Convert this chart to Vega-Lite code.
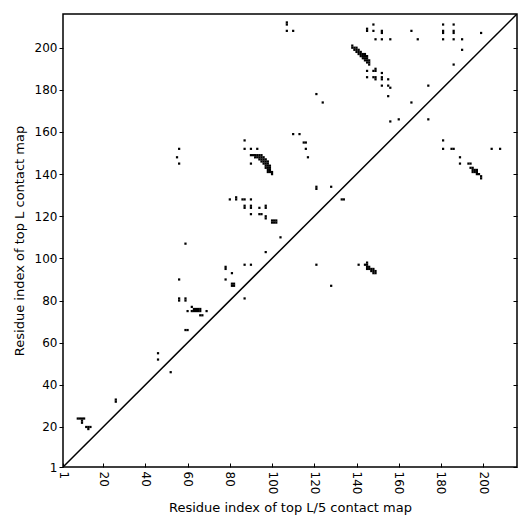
{
  "$schema": "https://vega.github.io/schema/vega-lite/v6.json",
  "autosize": "none",
  "width": 454,
  "height": 453,
  "padding": {"left": 63, "top": 14, "right": 14, "bottom": 64},
  "background": "white",
  "config": {
    "view": {"stroke": "black", "strokeWidth": 1.5},
    "font": "DejaVu Sans",
    "axis": {"labelFont": "DejaVu Sans", "titleFont": "DejaVu Sans", "labelFontSize": 12, "titleFontSize": 13, "titleFontWeight": "normal", "labelColor": "black", "titleColor": "black", "tickColor": "black", "domain": false, "grid": false}
  },
  "resolve": {"axis": {"y": "independent"}},
  "layer": [
    {
      "data": {"values": [
        {"x":107,"y":212},{"x":107,"y":211},{"x":107,"y":208},{"x":110,"y":208},
        {"x":145,"y":209},{"x":145,"y":208},{"x":148,"y":211},{"x":148,"y":208},
        {"x":152,"y":208},{"x":152,"y":207},{"x":149,"y":204},{"x":152,"y":204},{"x":156,"y":204},
        {"x":138,"y":201},{"x":138,"y":200},{"x":139,"y":200},{"x":139,"y":199},{"x":140,"y":200},{"x":140,"y":199},{"x":140,"y":198},
        {"x":141,"y":199},{"x":141,"y":198},{"x":141,"y":197},{"x":142,"y":198},{"x":142,"y":197},{"x":142,"y":196},{"x":143,"y":197},{"x":143,"y":196},{"x":143,"y":195},
        {"x":144,"y":197},{"x":144,"y":196},{"x":144,"y":195},{"x":144,"y":194},{"x":145,"y":196},{"x":145,"y":195},{"x":145,"y":194},{"x":145,"y":193},{"x":146,"y":194},{"x":146,"y":193},{"x":146,"y":192},
        {"x":145,"y":189},{"x":148,"y":189},{"x":149,"y":189},{"x":149,"y":190},{"x":152,"y":188},
        {"x":145,"y":186},{"x":148,"y":186},{"x":149,"y":186},{"x":149,"y":185},{"x":152,"y":185},{"x":152,"y":186},{"x":155,"y":185},
        {"x":152,"y":182},{"x":155,"y":182},{"x":156,"y":181},{"x":155,"y":177},
        {"x":121,"y":178},{"x":124,"y":174},{"x":156,"y":165},{"x":160,"y":166},
        {"x":166,"y":208},{"x":169,"y":204},
        {"x":181,"y":211},{"x":181,"y":208},{"x":181,"y":207},{"x":181,"y":204},
        {"x":186,"y":211},{"x":186,"y":208},{"x":186,"y":207},{"x":186,"y":204},
        {"x":190,"y":204},{"x":190,"y":199},{"x":199,"y":207},{"x":186,"y":192},
        {"x":174,"y":182},{"x":166,"y":174},{"x":174,"y":166},
        {"x":56,"y":152},{"x":55,"y":148},{"x":56,"y":145},
        {"x":110,"y":159},{"x":113,"y":159},{"x":87,"y":156},
        {"x":87,"y":152},{"x":90,"y":152},{"x":93,"y":152},
        {"x":90,"y":149},{"x":91,"y":149},{"x":92,"y":149},{"x":93,"y":149},{"x":94,"y":149},{"x":95,"y":149},
        {"x":92,"y":148},{"x":93,"y":148},{"x":94,"y":148},{"x":95,"y":148},{"x":96,"y":148},
        {"x":94,"y":147},{"x":95,"y":147},{"x":96,"y":147},{"x":97,"y":147},
        {"x":95,"y":146},{"x":96,"y":146},{"x":97,"y":146},{"x":98,"y":146},
        {"x":96,"y":145},{"x":97,"y":145},{"x":98,"y":145},{"x":90,"y":145},
        {"x":97,"y":144},{"x":98,"y":144},{"x":99,"y":144},
        {"x":97,"y":143},{"x":98,"y":143},{"x":99,"y":143},
        {"x":98,"y":142},{"x":99,"y":142},
        {"x":98,"y":141},{"x":99,"y":141},{"x":100,"y":141},{"x":100,"y":140},
        {"x":80,"y":128},{"x":83,"y":128},{"x":83,"y":129},{"x":86,"y":128},{"x":87,"y":128},{"x":90,"y":128},
        {"x":87,"y":125},{"x":87,"y":124},{"x":90,"y":125},{"x":90,"y":124},{"x":94,"y":124},{"x":97,"y":125},{"x":97,"y":124},
        {"x":90,"y":121},{"x":94,"y":121},{"x":95,"y":121},{"x":97,"y":120},{"x":97,"y":119},
        {"x":100,"y":118},{"x":101,"y":118},{"x":102,"y":118},{"x":100,"y":117},{"x":101,"y":117},{"x":102,"y":117},
        {"x":59,"y":107},{"x":104,"y":110},
        {"x":115,"y":155},{"x":116,"y":155},{"x":116,"y":152},{"x":117,"y":148},
        {"x":121,"y":134},{"x":121,"y":133},{"x":128,"y":134},{"x":133,"y":128},{"x":134,"y":128},
        {"x":181,"y":156},{"x":181,"y":152},{"x":185,"y":152},{"x":186,"y":152},{"x":204,"y":152},{"x":208,"y":152},
        {"x":189,"y":148},{"x":189,"y":145},{"x":193,"y":145},{"x":194,"y":145},
        {"x":194,"y":143},{"x":195,"y":143},{"x":195,"y":142},{"x":196,"y":142},{"x":197,"y":142},{"x":195,"y":141},{"x":196,"y":141},{"x":197,"y":141},
        {"x":197,"y":140},{"x":198,"y":140},{"x":199,"y":139},{"x":199,"y":138},
        {"x":56,"y":90},{"x":56,"y":81},{"x":56,"y":80},{"x":46,"y":55},{"x":46,"y":52},
        {"x":97,"y":103},{"x":87,"y":97},{"x":90,"y":97},{"x":78,"y":96},{"x":78,"y":95},{"x":81,"y":93},{"x":78,"y":90},
        {"x":81,"y":88},{"x":82,"y":88},{"x":81,"y":87},{"x":82,"y":87},{"x":87,"y":81},{"x":59,"y":81},{"x":59,"y":80},
        {"x":62,"y":77},{"x":63,"y":76},{"x":64,"y":76},{"x":63,"y":75},{"x":64,"y":75},{"x":60,"y":75},{"x":62,"y":75},
        {"x":65,"y":76},{"x":66,"y":76},{"x":65,"y":75},{"x":66,"y":75},{"x":69,"y":75},{"x":66,"y":73},{"x":67,"y":73},
        {"x":59,"y":66},{"x":60,"y":66},
        {"x":121,"y":97},{"x":128,"y":87},{"x":141,"y":97},
        {"x":144,"y":97},{"x":145,"y":98},{"x":145,"y":97},{"x":145,"y":96},{"x":146,"y":96},{"x":145,"y":95},{"x":146,"y":95},
        {"x":147,"y":95},{"x":148,"y":95},{"x":147,"y":94},{"x":148,"y":94},{"x":149,"y":94},{"x":148,"y":93},{"x":149,"y":93},
        {"x":52,"y":46},{"x":26,"y":33},{"x":26,"y":32},
        {"x":8,"y":24},{"x":9,"y":24},{"x":10,"y":24},{"x":11,"y":24},{"x":10,"y":23},{"x":10,"y":22},
        {"x":12,"y":20},{"x":13,"y":20},{"x":14,"y":20},{"x":13,"y":19}
      ]},
      "mark": {"type": "square", "size": 5, "color": "black", "filled": true, "opacity": 1, "strokeWidth": 0},
      "encoding": {
        "x": {"field": "x", "type": "quantitative", "scale": {"domain": [1, 216], "nice": false, "zero": false},
              "axis": {"title": "Residue index of top L/5 contact map", "values": [1,20,40,60,80,100,120,140,160,180,200], "labelAngle": 90, "tickSize": -4, "labelPadding": 8, "titlePadding": 8}},
        "y": {"field": "y", "type": "quantitative", "scale": {"domain": [1, 216], "nice": false, "zero": false},
              "axis": {"title": "Residue index of top L contact map", "values": [1,20,40,60,80,100,120,140,160,180,200], "tickSize": 4, "titlePadding": 8}}
      }
    },
    {
      "data": {"values": [{"x": 1, "y": 1}, {"x": 216, "y": 216}]},
      "mark": {"type": "line", "color": "black", "strokeWidth": 1.5, "clip": true},
      "encoding": {
        "x": {"field": "x", "type": "quantitative"},
        "y": {"field": "y", "type": "quantitative",
              "axis": {"orient": "right", "title": null, "labels": false, "values": [1,20,40,60,80,100,120,140,160,180,200], "tickSize": -4}}
      }
    }
  ]
}
